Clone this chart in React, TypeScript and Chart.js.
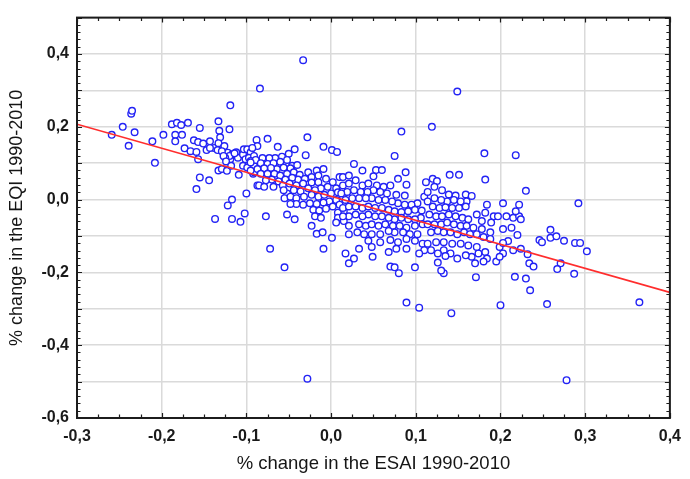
import { useEffect, useRef } from "react";
import { Chart, registerables } from "chart.js";

Chart.register(...registerables);

// % change in the ESAI 1990-2010 (x) and % change in the EQI 1990-2010 (y)
const esaiChange: number[] = [
  -0.033, -0.084, 0.149, 0.080, 0.133, 0.171, 0.217, 0.230, 0.235, 0.287, 0.089, 0.104, 0.142, 0.200, 0.255, 0.364, -0.028, 0.278,
  -0.259, -0.246, -0.239, -0.236, -0.235, -0.232, -0.211, -0.208, -0.198, -0.188, -0.182, -0.177, -0.169, -0.184, -0.184, -0.176,
  -0.173, -0.166, -0.162, -0.155, -0.157, -0.159, -0.157, -0.155, -0.159, -0.151, -0.147, -0.144, -0.143, -0.138, -0.133, -0.132,
  -0.131, -0.133, -0.134, -0.133, -0.129, -0.123, -0.119, -0.126, -0.122, -0.123, -0.119, -0.117, -0.117, -0.122, -0.137, -0.117,
  -0.107, -0.102, -0.100, -0.109, -0.120, -0.092, -0.091, -0.088,
  -0.143, -0.129, -0.120, -0.125, -0.127, -0.124, -0.112, -0.110, -0.114, -0.118, -0.104, -0.103, -0.099, -0.095, -0.101, -0.097,
  -0.091, -0.104, -0.099, -0.091, -0.095, -0.091, -0.087,
  -0.075, -0.087, -0.093, -0.063, -0.028, -0.043, -0.030, -0.009, 0.001, 0.007, -0.050, -0.058, -0.066, -0.073, -0.081, -0.089,
  -0.095, -0.083, -0.075, -0.068, -0.060, -0.052, -0.046, -0.040, -0.048, -0.056, -0.064, -0.071, -0.079, -0.087, -0.095, -0.083,
  -0.075, -0.067, -0.060, -0.052, -0.044, -0.037, -0.027, -0.017, -0.009, -0.015, -0.023, -0.031, -0.039, -0.046, -0.054, -0.062,
  -0.070, -0.077, -0.085, -0.079, -0.068, -0.057, -0.049, -0.041, -0.033, -0.023, -0.015, -0.006, 0.002, 0.010, 0.014, 0.006,
  -0.004, -0.012, -0.019, -0.027, -0.036, -0.044, -0.052, -0.056, -0.055, -0.048, -0.041, -0.032, -0.023, -0.015, -0.008, 0.000,
  0.008, 0.014, 0.006, -0.002, -0.009, -0.017, -0.025, -0.033, -0.041, -0.048, -0.021, -0.014, -0.006, 0.002, 0.010, 0.015,
  0.008, -0.019, -0.012, 0.008, 0.015, 0.006, -0.052, -0.043, -0.077, -0.023, -0.017, -0.010, 0.001, -0.009, -0.072, -0.055,
  0.083, 0.119, 0.075, 0.027, 0.017,
  0.037, 0.053, 0.060, 0.050, 0.079, 0.088, 0.089, 0.120, 0.014, 0.021, 0.029, 0.021, 0.037, 0.044, 0.054, 0.062,
  0.070, 0.066, 0.058, 0.050, 0.043, 0.035, 0.027, 0.019, 0.012, 0.087, 0.077, 0.110, 0.102, 0.095, 0.087, 0.079,
  0.072, 0.064, 0.056, 0.048, 0.041, 0.033, 0.025, 0.017, 0.014, 0.021, 0.029, 0.037, 0.044, 0.052, 0.060, 0.068,
  0.075, 0.083, 0.091, 0.099, 0.107, 0.106, 0.099, 0.091, 0.083, 0.075, 0.068, 0.060, 0.052, 0.044, 0.037, 0.029,
  0.021, 0.014, 0.021, 0.033, 0.041, 0.048, 0.056, 0.064, 0.073, 0.081, 0.089, 0.099, 0.108, 0.102, 0.093, 0.085,
  0.075, 0.068, 0.058, 0.048, 0.039, 0.031, 0.021, 0.044, 0.058, 0.070, 0.079, 0.089, 0.099, 0.108, 0.110, 0.104,
  0.089, 0.077, 0.068, 0.048, 0.033, 0.049, 0.027, 0.021, 0.070, 0.075, 0.099,
  0.181, 0.218, 0.140, 0.151, 0.182, 0.112, 0.125, 0.122, 0.114, 0.131, 0.139, 0.147, 0.159, 0.166, 0.160, 0.153,
  0.145, 0.137, 0.130, 0.122, 0.114, 0.120, 0.128, 0.135, 0.143, 0.151, 0.159, 0.184, 0.203, 0.222, 0.172, 0.182,
  0.192, 0.197, 0.207, 0.215, 0.222, 0.116, 0.124, 0.131, 0.139, 0.147, 0.155, 0.162, 0.178, 0.189, 0.203, 0.213,
  0.168, 0.178, 0.188, 0.114, 0.122, 0.130, 0.137, 0.145, 0.153, 0.160, 0.118, 0.126, 0.133, 0.141, 0.149, 0.157,
  0.164, 0.172, 0.180, 0.188, 0.209, 0.199, 0.215, 0.224, 0.203, 0.195, 0.182, 0.174, 0.166, 0.159, 0.149, 0.141,
  0.133, 0.126, 0.118, 0.114, 0.124, 0.133, 0.143, 0.153, 0.162, 0.172, 0.170, 0.126,
  0.230, 0.218, 0.224, 0.220, 0.203, 0.232, 0.234, 0.239, 0.246, 0.249, 0.259, 0.259, 0.266, 0.275, 0.271, 0.267,
  0.288, 0.294, 0.302, 0.292, 0.199, 0.184, 0.130, 0.135, 0.180,
];

const eqiChange: number[] = [
  0.383, 0.305, 0.297, -0.202, -0.202, -0.213, -0.212, -0.217, -0.249, -0.204, -0.283, -0.297, -0.312, -0.290, -0.287, -0.282, -0.492, -0.496,
  0.178, 0.200, 0.148, 0.236, 0.244, 0.185, 0.160, 0.101, 0.178, 0.207, 0.211, 0.205, 0.211, 0.178, 0.160, 0.178,
  0.141, 0.133, 0.163, 0.197, 0.158, 0.131, 0.111, 0.061, 0.029, 0.154, 0.136, 0.053, 0.160, 0.142, 0.215, 0.189,
  0.171, 0.155, 0.136, 0.080, 0.084, 0.079, 0.259, 0.147, 0.129, 0.109, 0.111, 0.124, 0.000, -0.016, -0.053, -0.053,
  -0.061, -0.038, 0.017, 0.068, 0.193, 0.071, 0.100, 0.164,
  0.142, 0.133, 0.120, 0.115, 0.120, 0.105, 0.130, 0.115, 0.127, 0.093, 0.124, 0.138, 0.138, 0.130, 0.111, 0.115,
  0.120, 0.093, 0.088, 0.093, 0.106, 0.075, 0.039,
  0.167, 0.147, 0.142, 0.145, 0.171, 0.138, 0.122, 0.145, 0.136, 0.131, 0.126, 0.118, 0.114, 0.114, 0.114, 0.109,
  0.102, 0.100, 0.098, 0.100, 0.104, 0.109, 0.093, 0.095, 0.086, 0.088, 0.084, 0.087, 0.086, 0.084, 0.080, 0.071,
  0.071, 0.071, 0.066, 0.071, 0.075, 0.068, 0.075, 0.080, 0.084, 0.066, 0.062, 0.057, 0.055, 0.060, 0.055, 0.050,
  0.055, 0.053, 0.039, 0.035, 0.035, 0.039, 0.044, 0.039, 0.044, 0.047, 0.048, 0.057, 0.048, 0.062, 0.039, 0.031,
  0.035, 0.031, 0.026, 0.031, 0.023, 0.026, 0.017, 0.026, 0.004, 0.008, 0.004, 0.008, 0.013, 0.008, 0.013, 0.017,
  0.020, 0.008, -0.001, -0.005, -0.008, -0.012, -0.010, -0.014, -0.012, -0.012, -0.028, -0.030, -0.025, -0.019, -0.014, -0.032,
  -0.036, -0.046, -0.050, -0.050, -0.059, -0.063, -0.041, -0.054, -0.046, -0.072, -0.094, -0.090, -0.105, -0.135, -0.135, -0.186,
  0.187, 0.200, 0.120, 0.098, -0.148,
  0.080, 0.081, 0.081, 0.064, 0.057, 0.075, 0.041, 0.057, 0.062, 0.066, 0.053, 0.044, 0.039, 0.044, 0.039, 0.035,
  0.039, 0.017, 0.021, 0.026, 0.021, 0.021, 0.026, 0.021, 0.017, 0.011, 0.013, 0.008, -0.010, -0.014, -0.014, -0.010,
  -0.005, -0.001, -0.001, 0.004, 0.004, 0.004, 0.004, -0.001, -0.023, -0.019, -0.019, -0.023, -0.019, -0.023, -0.023, -0.028,
  -0.032, -0.034, -0.032, -0.028, -0.030, -0.050, -0.054, -0.054, -0.050, -0.054, -0.050, -0.046, -0.046, -0.041, -0.046, -0.041,
  -0.046, -0.046, -0.072, -0.068, -0.072, -0.068, -0.072, -0.068, -0.072, -0.072, -0.077, -0.072, -0.068, -0.095, -0.095, -0.090,
  -0.090, -0.086, -0.095, -0.095, -0.095, -0.090, -0.095, -0.113, -0.117, -0.111, -0.117, -0.108, -0.113, -0.121, -0.139, -0.148,
  -0.135, -0.135, -0.144, -0.130, -0.135, -0.157, -0.162, -0.175, -0.184, -0.186, -0.186,
  0.127, 0.122, 0.068, 0.068, 0.055, 0.048, 0.051, 0.035, 0.021, 0.026, 0.014, 0.011, 0.014, 0.010, -0.005, -0.005,
  -0.001, -0.005, -0.001, 0.004, -0.005, -0.019, -0.023, -0.021, -0.023, -0.023, -0.019, -0.014, -0.010, -0.014, -0.041, -0.036,
  -0.046, -0.046, -0.046, -0.050, -0.046, -0.041, -0.046, -0.046, -0.041, -0.046, -0.050, -0.054, -0.059, -0.063, -0.081, -0.077,
  -0.077, -0.081, -0.090, -0.068, -0.068, -0.068, -0.063, -0.068, -0.072, -0.072, -0.090, -0.086, -0.090, -0.090, -0.095, -0.090,
  -0.095, -0.095, -0.103, -0.108, -0.114, -0.130, -0.139, -0.135, -0.148, -0.170, -0.144, -0.148, -0.157, -0.153, -0.162, -0.148,
  -0.139, -0.148, -0.139, -0.121, -0.117, -0.117, -0.121, -0.121, -0.126, -0.130, -0.175, -0.173,
  0.024, -0.032, -0.054, -0.097, -0.119, -0.150, -0.175, -0.184, -0.111, -0.117, -0.083, -0.105, -0.101, -0.113, -0.175, -0.191,
  -0.119, -0.119, -0.142, -0.010, -0.157, -0.162, -0.195, -0.155, -0.170,
];

// Regression line end points
const fitX: number[] = [-0.3, 0.4];
const fitY: number[] = [0.207, -0.255];

// Axis ranges and ticks
const xRange: number[] = [-0.3, 0.4];
const yRange: number[] = [-0.6, 0.5];
const xLabelledTicks: number[] = [-0.3, -0.2, -0.1, 0.0, 0.1, 0.2, 0.3, 0.4];
const yLabelledTicks: number[] = [-0.6, -0.4, -0.2, 0.0, 0.2, 0.4];

const xTitle = "% change in the ESAI 1990-2010";
const yTitle = "% change in the EQI 1990-2010";

const fmt = (v: number) => {
  const r = Math.round(v * 10) / 10;
  return (r === 0 ? 0 : r).toFixed(1).replace(".", ",");
};

const FONT = "'Liberation Sans', Arial, sans-serif";

const framePlugin = {
  id: "frameTicks",
  afterDatasetsDraw(chart: any) {
    const { ctx, chartArea } = chart;
    const { left, right, top, bottom } = chartArea;
    const xs = chart.scales.x;
    const ys = chart.scales.y;
    ctx.save();
    ctx.strokeStyle = "#1c1c1c";
    ctx.lineWidth = 1.2;
    ctx.beginPath();
    const xStep = 0.025;
    const nx = Math.round((xRange[1] - xRange[0]) / xStep);
    for (let i = 0; i <= nx; i++) {
      const px = Math.round(xs.getPixelForValue(xRange[0] + i * xStep)) + 0.5;
      const len = i % 4 === 0 ? 5 : 3.5;
      ctx.moveTo(px, bottom);
      ctx.lineTo(px, bottom - len);
      ctx.moveTo(px, top);
      ctx.lineTo(px, top + len);
    }
    const yStep = 0.02;
    const ny = Math.round((yRange[1] - yRange[0]) / yStep);
    for (let i = 0; i <= ny; i++) {
      const py = Math.round(ys.getPixelForValue(yRange[0] + i * yStep)) + 0.5;
      const len = i % 5 === 0 ? 5 : 3.5;
      ctx.moveTo(left, py);
      ctx.lineTo(left + len, py);
      ctx.moveTo(right, py);
      ctx.lineTo(right - len, py);
    }
    ctx.stroke();
    ctx.lineWidth = 2;
    ctx.strokeRect(left, top, right - left, bottom - top);
    ctx.restore();
  },
};

export default function App() {
  const canvasRef = useRef<HTMLCanvasElement | null>(null);

  useEffect(() => {
    document.body.style.margin = "0";
    const canvas = canvasRef.current;
    if (!canvas) return;

    const points = esaiChange.map((x, i) => ({ x, y: eqiChange[i] }));
    const fit = fitX.map((x, i) => ({ x, y: fitY[i] }));

    const chart = new Chart(canvas, {
      type: "scatter",
      data: {
        datasets: [
          {
            label: "fit",
            data: fit,
            showLine: true,
            borderColor: "rgb(255, 45, 45)",
            borderWidth: 1.6,
            pointRadius: 0,
            order: 0,
          } as any,
          {
            label: "points",
            data: points,
            pointRadius: 3.3,
            pointBorderWidth: 1.4,
            borderColor: "rgb(35, 35, 245)",
            backgroundColor: "#ffffff",
            pointBackgroundColor: "#ffffff",
            pointBorderColor: "rgb(35, 35, 245)",
            order: 1,
          } as any,
        ],
      },
      options: {
        animation: false,
        responsive: false,
        maintainAspectRatio: false,
        events: [],
        layout: { padding: { left: 0, right: 11, top: 8, bottom: 0 } },
        plugins: {
          legend: { display: false },
          tooltip: { enabled: false },
        },
        scales: {
          x: {
            type: "linear",
            min: xRange[0],
            max: xRange[1],
            afterFit: (s: any) => {
              s.height = 61;
            },
            afterBuildTicks: (s: any) => {
              s.ticks = xLabelledTicks.map((v) => ({ value: v }));
            },
            ticks: {
              autoSkip: false,
              maxRotation: 0,
              padding: 9,
              color: "#1a1a1a",
              font: { family: FONT, size: 16, weight: "bold" },
              callback: (v: any) => fmt(Number(v)),
            },
            grid: {
              color: "rgb(218, 218, 218)",
              lineWidth: 1.5,
              drawTicks: false,
            },
            border: { display: false },
            title: {
              display: true,
              text: xTitle,
              color: "#151515",
              font: { family: FONT, size: 18.5 },
              padding: { top: 0, bottom: 4 },
            },
          },
          y: {
            type: "linear",
            min: yRange[0],
            max: yRange[1],
            afterFit: (s: any) => {
              s.width = 77;
            },
            afterBuildTicks: (s: any) => {
              const out: { value: number }[] = [];
              for (let i = 0; i <= 11; i++) out.push({ value: Math.round((yRange[0] + i * 0.1) * 10) / 10 });
              s.ticks = out;
            },
            ticks: {
              autoSkip: false,
              padding: 8,
              color: "#1a1a1a",
              font: { family: FONT, size: 16, weight: "bold" },
              callback: (v: any) => {
                const n = Number(v);
                return yLabelledTicks.some((t) => Math.abs(t - n) < 1e-6) ? fmt(n) : "";
              },
            },
            grid: {
              color: "rgb(218, 218, 218)",
              lineWidth: 1.5,
              drawTicks: false,
            },
            border: { display: false },
            title: {
              display: true,
              text: yTitle,
              color: "#151515",
              font: { family: FONT, size: 18 },
              padding: { top: 6, bottom: 0 },
            },
          },
        },
      },
      plugins: [framePlugin],
    });

    return () => {
      chart.destroy();
    };
  }, []);

  return (
    <div style={{ width: 690, height: 479, background: "#ffffff" }}>
      <canvas ref={canvasRef} width={690} height={479} style={{ display: "block" }} />
    </div>
  );
}
